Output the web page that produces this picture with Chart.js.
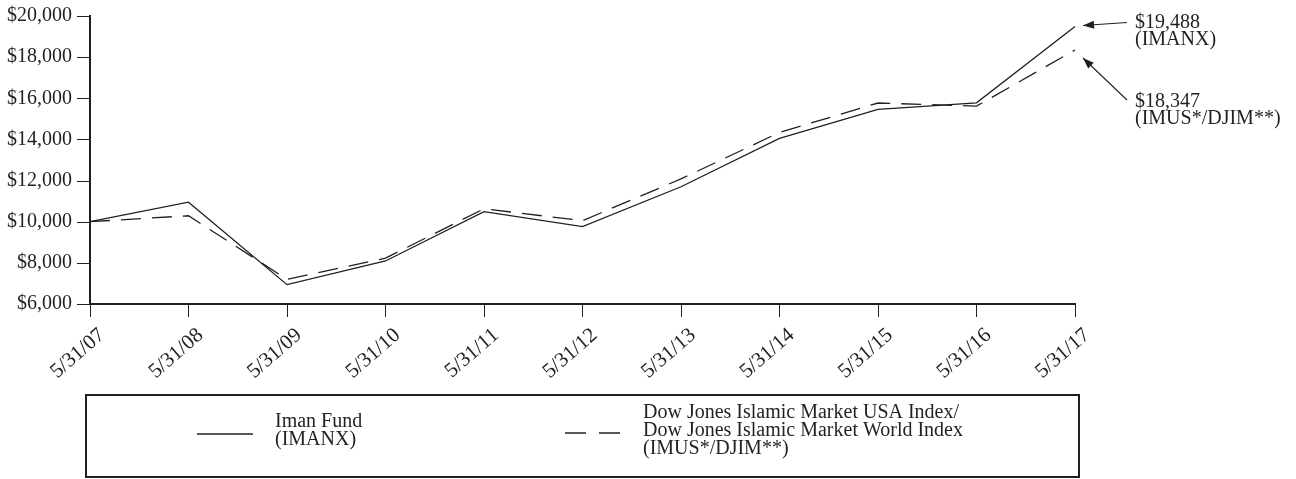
<!DOCTYPE html>
<html>
<head>
<meta charset="utf-8">
<script src="https://cdn.jsdelivr.net/npm/chart.js@4/dist/chart.umd.min.js"></script>
<style>
  html, body { margin: 0; padding: 0; background: #fff; }
  #wrap { width: 1296px; height: 479px; position: relative; }
</style>
</head>
<body>
<div id="wrap"><canvas id="myChart"></canvas></div>
<script>
const dates = ['5/31/07', '5/31/08', '5/31/09', '5/31/10', '5/31/11', '5/31/12',
               '5/31/13', '5/31/14', '5/31/15', '5/31/16', '5/31/17'];
const imanFund = [10000, 10950, 6940, 8090, 10490, 9760, 11700, 14050, 15460, 15780, 19488];
const djimIndex = [10000, 10290, 7200, 8230, 10630, 10050, 12080, 14340, 15770, 15620, 18347];
const yTicks = [6000, 8000, 10000, 12000, 14000, 16000, 18000, 20000];

const imanLegend = ['Iman Fund', '(IMANX)'];
const indexLegend = ['Dow Jones Islamic Market USA Index/', 'Dow Jones Islamic Market World Index', '(IMUS*/DJIM**)'];
const imanTag = '(IMANX)';
const indexTag = '(IMUS*/DJIM**)';

const ink = '#231f20';
const serif = '"Liberation Serif", "Times New Roman", serif';
const money = v => '$' + v.toLocaleString('en-US');

// y tick marks: long ones at labels, short ones in between
const yTickMarks = {
    id: 'yTickMarks',
    afterDraw(chart) {
        const { ctx } = chart;
        const y = chart.scales.y;
        ctx.save();
        ctx.strokeStyle = ink;
        ctx.lineWidth = 1;
        y.ticks.forEach(t => {
            const py = Math.round(y.getPixelForValue(t.value)) + 0.5;
            const len = yTicks.includes(t.value) ? 13 : 6;
            ctx.beginPath();
            ctx.moveTo(y.right - len, py);
            ctx.lineTo(y.right, py);
            ctx.stroke();
        });
        ctx.restore();
    }
};

function arrow(ctx, x1, y1, x2, y2) {
    ctx.beginPath();
    ctx.moveTo(x1, y1);
    ctx.lineTo(x2, y2);
    ctx.stroke();
    const a = Math.atan2(y2 - y1, x2 - x1);
    const l = 11, w = 4;
    ctx.beginPath();
    ctx.moveTo(x2, y2);
    ctx.lineTo(x2 - l * Math.cos(a) + w * Math.sin(a), y2 - l * Math.sin(a) - w * Math.cos(a));
    ctx.lineTo(x2 - l * Math.cos(a) - w * Math.sin(a), y2 - l * Math.sin(a) + w * Math.cos(a));
    ctx.closePath();
    ctx.fill();
}

// end-value callouts at the right
const endLabels = {
    id: 'endLabels',
    afterDraw(chart) {
        const { ctx } = chart;
        const last = dates.length - 1;
        const p1 = chart.getDatasetMeta(0).data[last];
        const p2 = chart.getDatasetMeta(1).data[last];
        ctx.save();
        ctx.strokeStyle = ink;
        ctx.fillStyle = ink;
        ctx.lineWidth = 1.1;
        ctx.font = '20px ' + serif;
        ctx.textAlign = 'left';
        ctx.textBaseline = 'middle';

        arrow(ctx, p1.x + 52, p1.y - 4, p1.x + 8, p1.y - 1);
        ctx.fillText(money(imanFund[last]), p1.x + 60, p1.y - 4);
        ctx.fillText(imanTag, p1.x + 60, p1.y + 13);

        arrow(ctx, p2.x + 52, p2.y + 50, p2.x + 8, p2.y + 8);
        ctx.fillText(money(djimIndex[last]), p2.x + 60, p2.y + 52);
        ctx.fillText(indexTag, p2.x + 60, p2.y + 69);
        ctx.restore();
    }
};

// boxed legend under the axis
const boxLegend = {
    id: 'boxLegend',
    afterDraw(chart) {
        const { ctx } = chart;
        const left = chart.chartArea.left - 4;
        const right = chart.chartArea.right + 4;
        const top = 395, bottom = 477;
        const row = 431;
        ctx.save();
        ctx.strokeStyle = ink;
        ctx.lineWidth = 2;
        ctx.strokeRect(left, top, right - left, bottom - top);

        ctx.lineWidth = 1.3;
        ctx.beginPath();
        ctx.moveTo(197, row + 3);
        ctx.lineTo(253, row + 3);
        ctx.stroke();

        ctx.setLineDash([21, 13]);
        ctx.beginPath();
        ctx.moveTo(565, row + 2);
        ctx.lineTo(620, row + 2);
        ctx.stroke();
        ctx.setLineDash([]);

        ctx.fillStyle = ink;
        ctx.font = '20px ' + serif;
        ctx.textAlign = 'left';
        ctx.textBaseline = 'middle';
        imanLegend.forEach((s, i) => ctx.fillText(s, 275, row - 9 + i * 18));
        indexLegend.forEach((s, i) => ctx.fillText(s, 643, row - 18 + i * 18));
        ctx.restore();
    }
};

new Chart(document.getElementById('myChart'), {
    type: 'line',
    data: {
        labels: dates,
        datasets: [
            {
                label: 'Iman Fund (IMANX)',
                data: imanFund,
                borderColor: ink,
                borderWidth: 1.3,
                pointRadius: 0,
                tension: 0,
                fill: false
            },
            {
                label: 'Dow Jones Islamic Market USA Index/World Index',
                data: djimIndex,
                borderColor: ink,
                borderWidth: 1.3,
                borderDash: [20, 11],
                pointRadius: 0,
                tension: 0,
                fill: false
            }
        ]
    },
    options: {
        responsive: true,
        maintainAspectRatio: false,
        animation: false,
        layout: { padding: { top: 16, right: 221, left: 0, bottom: 0 } },
        plugins: {
            legend: { display: false },
            tooltip: { enabled: false }
        },
        scales: {
            x: {
                offset: false,
                afterFit: s => { s.height = 175; },
                border: { display: true, color: ink, width: 2 },
                grid: { drawOnChartArea: false, drawTicks: true, tickLength: 13, tickColor: ink, tickWidth: 1 },
                ticks: {
                    color: ink,
                    font: { family: serif, size: 21 },
                    minRotation: 41,
                    maxRotation: 41,
                    autoSkip: false,
                    padding: 6,
                    labelOffset: 12
                }
            },
            y: {
                min: 6000,
                max: 20000,
                afterFit: s => { s.width = 90; s.paddingTop = 0; s.paddingBottom = 0; },
                border: { display: true, color: ink, width: 2 },
                grid: { drawOnChartArea: false, drawTicks: false },
                ticks: {
                    stepSize: 1000,
                    color: ink,
                    padding: 18,
                    font: { family: serif, size: 20 },
                    callback: v => yTicks.includes(v) ? money(v) : ''
                }
            }
        }
    },
    plugins: [yTickMarks, endLabels, boxLegend]
});
</script>
</body>
</html>
